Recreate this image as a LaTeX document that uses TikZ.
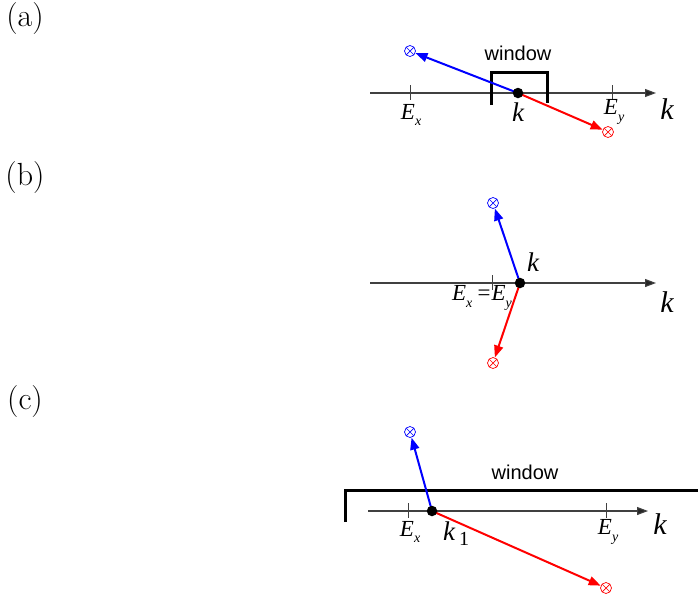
\documentclass[tikz,border=0pt]{standalone}
\usepackage{fontspec}
\newfontfamily\tm{Liberation Serif}
\newfontfamily\ar{Liberation Sans}
\usetikzlibrary{arrows.meta}
\newcommand{\Esub}[1]{E\rlap{\raisebox{-0.3em}{\fontsize{14}{14}\selectfont #1}}}
\tikzset{
  ax/.style={line width=1.1pt, draw=black!75, -{Triangle[length=11pt,width=8pt,fill=black!85]}},
  tk/.style={line width=1pt, draw=black!75},
  dotn/.style={circle, fill=black, inner sep=0pt, minimum size=10.5pt},
  otm/.style={circle, draw=#1, line width=0.7pt, inner sep=0pt, minimum size=11pt,
    path picture={\draw[#1, line width=0.7pt]
      (path picture bounding box.north west) -- (path picture bounding box.south east)
      (path picture bounding box.north east) -- (path picture bounding box.south west);}},
  vec/.style={line width=2pt, draw=#1, -{Triangle[length=12pt,width=9pt]}},
  win/.style={line width=3pt, draw=black, line cap=butt, line join=miter},
  wtxt/.style={font=\ar\fontsize{20}{20}\selectfont},
  klab/.style={font=\tm\itshape\fontsize{27}{27}\selectfont, inner sep=0pt},
  klabbig/.style={font=\tm\itshape\fontsize{30}{30}\selectfont, inner sep=0pt},
  elab/.style={font=\tm\itshape\fontsize{23}{23}\selectfont, inner sep=0pt},
  plab/.style={font=\fontsize{32}{32}\selectfont, inner sep=0pt},
}
\begin{document}
\begin{tikzpicture}[x=1pt, y=-1pt]
\useasboundingbox (0,0) rectangle (698,598);
\clip (0,0) rectangle (698,598);
% panel labels
\node[plab] (pa) at (25,19) {(a)};
\node[plab] (pb) at (25,178) {(b)};
\node[plab] (pc) at (25,402) {(c)};

% ---------- (a)
\coordinate (a0) at (370,93);
\coordinate (a1) at (656,93);
\draw[ax] (a0) -- (a1);
\draw[tk] (410,85) -- (410,100);
\draw[tk] (612,85) -- (612,100);
\draw[win] (491,105) -- (491,72) -- (547,72) -- (547,103);
\node[wtxt] (wa) at (518,53) {window};
\coordinate (ka) at (518,93);
\node[otm=blue] (ba) at (410,51) {};
\node[otm=red] (ra) at (608,132) {};
\draw[vec=blue] (ka) -- (ba);
\draw[vec=red] (ka) -- (ra);
\node[dotn] (kad) at (ka) {};
\node[klab] (kal) at (518,112) {k};
\node[klabbig] (kaa) at (667,109) {k};
\node[elab] (exa) at (408,115) {\Esub{x}};
\node[elab] (eya) at (611,112) {\Esub{y}};

% ---------- (b)
\coordinate (b0) at (370,283);
\coordinate (b1) at (656,283);
\draw[ax] (b0) -- (b1);
\draw[tk] (492,275) -- (492,290);
\coordinate (kb) at (520,283);
\node[otm=blue] (bb) at (493,203) {};
\node[otm=red] (rb) at (493,363) {};
\node[elab] (exyb) at (482,298) {E\raisebox{-0.3em}{\fontsize{14}{14}\selectfont x}\,=E\raisebox{-0.3em}{\fontsize{14}{14}\selectfont y}};
\draw[vec=blue] (kb) -- (bb);
\draw[vec=red] (kb) -- (rb);
\node[dotn] (kbd) at (kb) {};
\node[klab] (kbl) at (533,262) {k};
\node[klabbig] (kba) at (667,302) {k};

% ---------- (c)
\coordinate (c0) at (368,511);
\coordinate (c1) at (648,511);
\draw[ax] (c0) -- (c1);
\draw[tk] (408,503) -- (408,518);
\draw[tk] (606,503) -- (606,518);
\draw[win] (345,522) -- (345,490) -- (700,490);
\node[wtxt] (wc) at (525,472) {window};
\coordinate (kc) at (432,511);
\node[otm=blue] (bc) at (410,432) {};
\node[otm=red] (rc) at (606,588) {};
\draw[vec=blue] (kc) -- (bc);
\draw[vec=red] (kc) -- (rc);
\node[dotn] (kcd) at (kc) {};
\node[klab] (kcl) at (449,531) {k};
\node[font=\tm\fontsize{20}{20}\selectfont, inner sep=0pt] (kc1) at (464,539) {1};
\node[klabbig] (kca) at (660,524) {k};
\node[elab] (exc) at (407,532) {\Esub{x}};
\node[elab] (eyc) at (605,532) {\Esub{y}};
\end{tikzpicture}
\end{document}
